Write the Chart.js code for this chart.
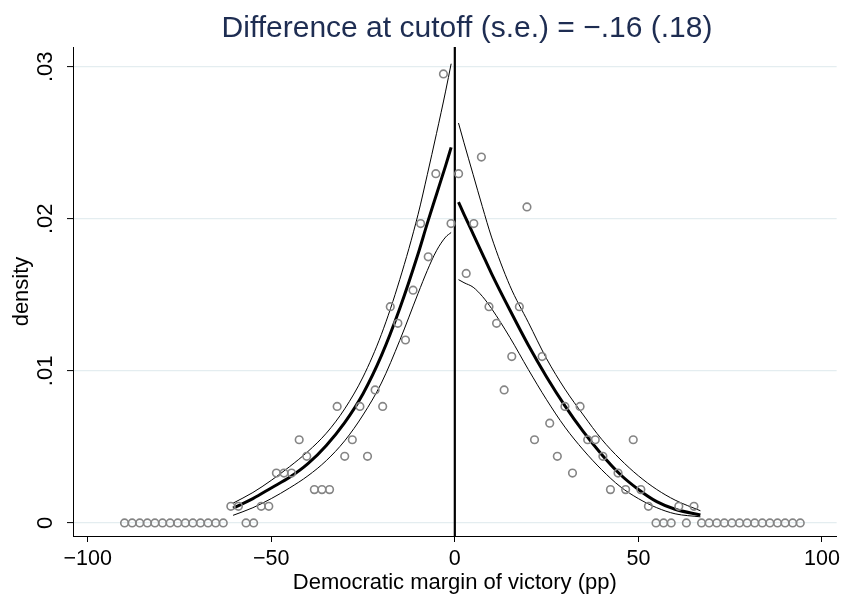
<!DOCTYPE html>
<html>
<head>
<meta charset="utf-8">
<script src="https://cdn.jsdelivr.net/npm/chart.js@4.4.0/dist/chart.umd.min.js"></script>
<style>
  html, body { margin: 0; padding: 0; background: #ffffff; }
  #wrap { width: 844px; height: 597px; }
</style>
</head>
<body>
<div id="wrap"><canvas id="chart" width="844" height="597"></canvas></div>
<script>
const titleText = "Difference at cutoff (s.e.) = \u2212.16 (.18)";
const xTitle = "Democratic margin of victory (pp)";
const yTitle = "density";
const xTicks = [-100, -50, 0, 50, 100];
const yTicks = [0, 0.01, 0.02, 0.03];
const yTickLabels = ["0", ".01", ".02", ".03"];
const cutoff = 0;

// histogram bins, left of cutoff
const leftBinX = [-89.96, -87.89, -85.82, -83.75, -81.69, -79.62, -77.55, -75.48, -73.41, -71.35,
  -69.28, -67.21, -65.14, -63.07, -61.01, -58.94, -56.87, -54.80, -52.73, -50.67,
  -48.60, -46.53, -44.46, -42.39, -40.33, -38.26, -36.19, -34.12, -32.05, -29.99,
  -27.92, -25.85, -23.78, -21.71, -19.65, -17.58, -15.51, -13.44, -11.37, -9.31,
  -7.24, -5.17, -3.10, -1.03];
const leftBinDensity = [0, 0, 0, 0, 0, 0, 0, 0, 0, 0,
  0, 0, 0, 0, 0.00109, 0.00109, 0, 0, 0.00109, 0.00109,
  0.00328, 0.00328, 0.00328, 0.00547, 0.00438, 0.00219, 0.00219, 0.00219, 0.00766, 0.00438,
  0.00547, 0.00766, 0.00438, 0.00875, 0.00766, 0.01422, 0.01313, 0.01203, 0.01531, 0.01969,
  0.01750, 0.02297, 0.02953, 0.01969];

// histogram bins, right of cutoff
const rightBinX = [1.03, 3.10, 5.17, 7.24, 9.31, 11.37, 13.44, 15.51, 17.58, 19.65,
  21.71, 23.78, 25.85, 27.92, 29.99, 32.05, 34.12, 36.19, 38.26, 40.33,
  42.39, 44.46, 46.53, 48.60, 50.67, 52.73, 54.80, 56.87, 58.94, 61.01,
  63.07, 65.14, 67.21, 69.28, 71.35, 73.41, 75.48, 77.55, 79.62, 81.69,
  83.75, 85.82, 87.89, 89.96, 92.03, 94.09];
const rightBinDensity = [0.02297, 0.01641, 0.01969, 0.02406, 0.01422, 0.01313, 0.00875, 0.01094, 0.01422, 0.02078,
  0.00547, 0.01094, 0.00656, 0.00438, 0.00766, 0.00328, 0.00766, 0.00547, 0.00547, 0.00438,
  0.00219, 0.00328, 0.00219, 0.00547, 0.00219, 0.00109, 0, 0, 0, 0.00109,
  0, 0.00109, 0, 0, 0, 0, 0, 0, 0, 0,
  0, 0, 0, 0, 0, 0];

// fitted density and confidence band, left side
const leftCurveX = [-60.4, -55, -50, -45, -40, -35, -30, -25, -20, -15, -10, -7.5, -5, -2.5, -1.0];
const leftFit = [0.00097, 0.0016, 0.0023, 0.0030, 0.0039, 0.0051, 0.0066, 0.0085, 0.0110, 0.0141, 0.0177, 0.0197, 0.0216, 0.0235, 0.0247];
const leftHi = [0.0013, 0.0020, 0.0028, 0.0037, 0.0047, 0.0059, 0.0075, 0.0096, 0.0124, 0.0160, 0.0203, 0.0229, 0.0256, 0.0284, 0.0302];
const leftLo = [0.0005, 0.0010, 0.0016, 0.0023, 0.0031, 0.0041, 0.0054, 0.0071, 0.0092, 0.0120, 0.0151, 0.0166, 0.0179, 0.0188, 0.0191];

// fitted density and confidence band, right side
const rightCurveX = [1.0, 2.5, 5, 7.5, 10, 15, 20, 25, 30, 35, 40, 45, 50, 55, 60, 66.9];
const rightFit = [0.0211, 0.0203, 0.0190, 0.0177, 0.0164, 0.0140, 0.0117, 0.0096, 0.0077, 0.0060, 0.0045, 0.0032, 0.0022, 0.0014, 0.0009, 0.00053];
const rightHi = [0.0263, 0.0250, 0.0229, 0.0208, 0.0188, 0.0156, 0.0132, 0.0108, 0.0088, 0.0071, 0.0055, 0.0042, 0.0031, 0.0022, 0.0015, 0.0008];
const rightLo = [0.0160, 0.0158, 0.0155, 0.0149, 0.0141, 0.0122, 0.0101, 0.0081, 0.0063, 0.0048, 0.0035, 0.0024, 0.0016, 0.0010, 0.0006, 0.0004];

const FONT = "'Liberation Sans', Arial, Helvetica, sans-serif";

function toPoints(xs, ys) {
  return xs.map((x, i) => ({ x: x, y: ys[i] }));
}

function curve(xs, ys, width) {
  return {
    type: "line",
    data: toPoints(xs, ys),
    borderColor: "#000000",
    borderWidth: width,
    pointRadius: 0,
    fill: false,
    cubicInterpolationMode: "monotone",
    order: 2,
  };
}

// vertical line at the cutoff plus hand-placed texts
const decorPlugin = {
  id: "decor",
  beforeDatasetsDraw(chart) {
    const ctx = chart.ctx;
    const area = chart.chartArea;
    const px = chart.scales.x.getPixelForValue(cutoff);
    ctx.save();
    ctx.strokeStyle = "#000000";
    ctx.lineWidth = 2.2;
    ctx.beginPath();
    ctx.moveTo(px, area.top);
    ctx.lineTo(px, area.bottom);
    ctx.stroke();
    ctx.restore();
  },
  afterDraw(chart) {
    const ctx = chart.ctx;
    const yScale = chart.scales.y;
    const xScale = chart.scales.x;
    ctx.save();

    // title
    ctx.fillStyle = "#1e2d52";
    ctx.font = "30px " + FONT;
    ctx.textAlign = "center";
    ctx.textBaseline = "alphabetic";
    ctx.fillText(titleText, 467, 37);

    // y tick labels, rotated
    ctx.fillStyle = "#000000";
    ctx.font = "22px " + FONT;
    yTicks.forEach((v, i) => {
      const py = yScale.getPixelForValue(v);
      ctx.save();
      ctx.translate(46, py);
      ctx.rotate(-Math.PI / 2);
      ctx.textAlign = "center";
      ctx.textBaseline = "middle";
      ctx.fillText(yTickLabels[i], 0, 0);
      ctx.restore();
    });

    // y title
    ctx.save();
    ctx.translate(22, (chart.chartArea.top + chart.chartArea.bottom) / 2);
    ctx.rotate(-Math.PI / 2);
    ctx.textAlign = "center";
    ctx.textBaseline = "middle";
    ctx.fillText(yTitle, 0, 0);
    ctx.restore();

    // x title
    ctx.textAlign = "center";
    ctx.textBaseline = "alphabetic";
    ctx.fillText(xTitle, (xScale.left + xScale.right) / 2, 589);

    ctx.restore();
  },
};

const ctx = document.getElementById("chart").getContext("2d");
new Chart(ctx, {
  type: "scatter",
  data: {
    datasets: [
      {
        data: toPoints(leftBinX.concat(rightBinX), leftBinDensity.concat(rightBinDensity)),
        showLine: false,
        pointStyle: "circle",
        pointRadius: 3.8,
        pointBorderWidth: 1.6,
        pointBorderColor: "#858585",
        pointBackgroundColor: "rgba(0,0,0,0)",
        order: 1,
      },
      curve(leftCurveX, leftHi, 1),
      curve(leftCurveX, leftLo, 1),
      curve(leftCurveX, leftFit, 3),
      curve(rightCurveX, rightHi, 1),
      curve(rightCurveX, rightLo, 1),
      curve(rightCurveX, rightFit, 3),
    ],
  },
  options: {
    responsive: false,
    animation: false,
    devicePixelRatio: 1,
    events: [],
    layout: { padding: { top: 47, right: 6, left: 0, bottom: 0 } },
    plugins: {
      legend: { display: false },
      tooltip: { enabled: false },
      title: { display: false },
    },
    scales: {
      x: {
        type: "linear",
        min: -104,
        max: 104,
        afterBuildTicks: (scale) => {
          scale.ticks = xTicks.map((v) => ({ value: v }));
        },
        afterFit: (scale) => {
          scale.height = 61;
        },
        ticks: {
          color: "#000000",
          font: { family: FONT, size: 21.5 },
          padding: 4,
          maxRotation: 0,
          callback: (v) => (v < 0 ? "\u2212" + Math.abs(v) : String(v)),
        },
        grid: {
          drawOnChartArea: false,
          drawTicks: true,
          tickLength: 6,
          tickColor: "#000000",
          tickWidth: 1,
        },
        border: { display: true, color: "#000000", width: 1 },
      },
      y: {
        type: "linear",
        min: -0.00086,
        max: 0.0313,
        afterBuildTicks: (scale) => {
          scale.ticks = yTicks.map((v) => ({ value: v }));
        },
        afterFit: (scale) => {
          scale.width = 73;
        },
        ticks: { display: false },
        grid: {
          color: "#e4edf0",
          lineWidth: 1.2,
          drawTicks: true,
          tickLength: 6,
          tickColor: "#000000",
          tickWidth: 1,
        },
        border: { display: true, color: "#000000", width: 1 },
      },
    },
  },
  plugins: [decorPlugin],
});
</script>
</body>
</html>
